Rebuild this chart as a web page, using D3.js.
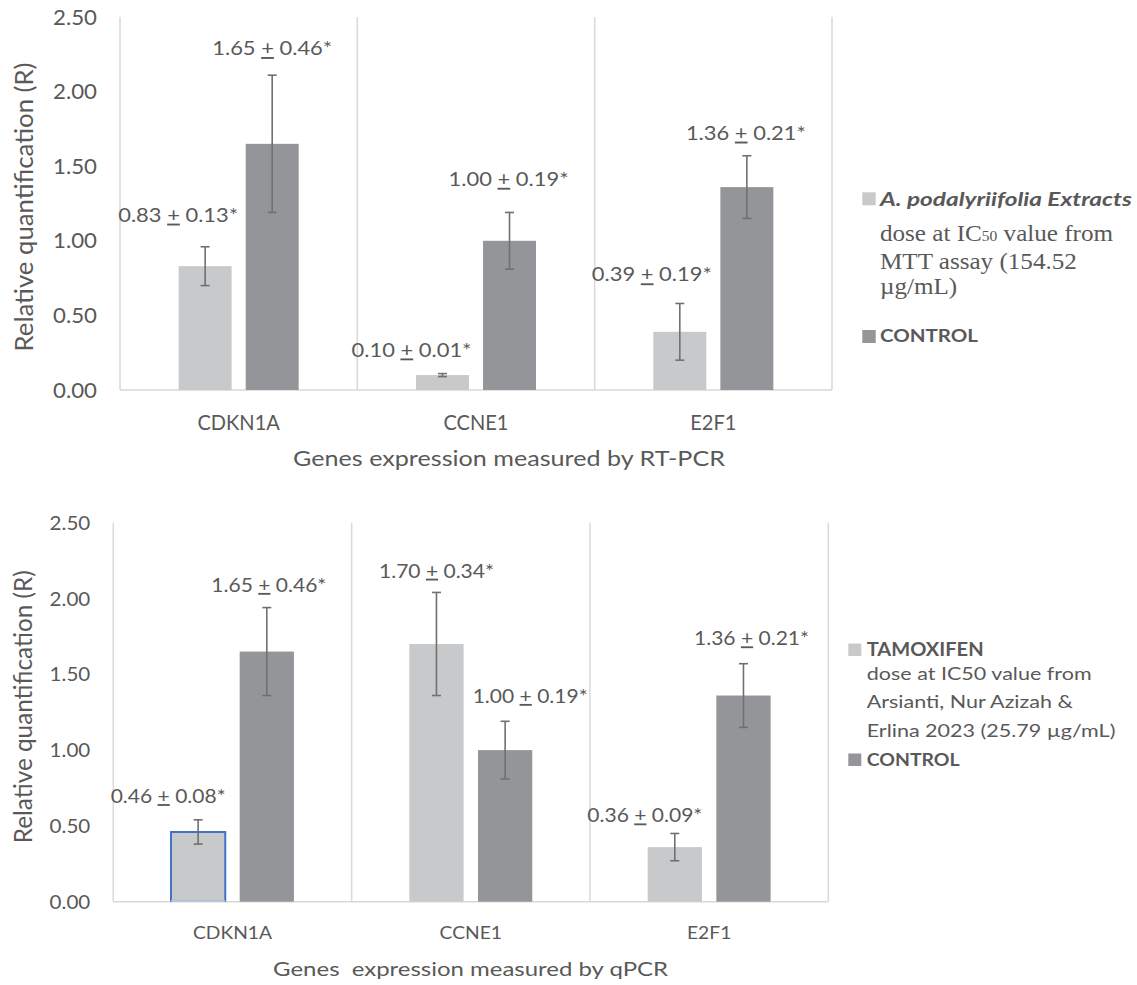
<!DOCTYPE html>
<html>
<head>
<meta charset="utf-8">
<script src="https://cdn.jsdelivr.net/npm/d3@7"></script>
<style>
  html, body { margin: 0; padding: 0; background: #ffffff; }
  svg { display: block; }
</style>
</head>
<body>
<svg id="chart" width="1137" height="985"></svg>
<script>
// ---------------- DATA ----------------
const categories = ["CDKN1A", "CCNE1", "E2F1"];
const yTickValues = [0, 0.5, 1.0, 1.5, 2.0, 2.5];

// Top panel (RT-PCR)
const topSeriesNames = ["A. podalyriifolia Extracts", "CONTROL"];
const topExtractValues = [0.83, 0.10, 0.39];
const topExtractErrors = [0.13, 0.01, 0.19];
const topControlValues = [1.65, 1.00, 1.36];
const topControlErrors = [0.46, 0.19, 0.21];
const topExtractLabels = ["0.83 + 0.13*", "0.10 + 0.01*", "0.39 + 0.19*"];
const topControlLabels = ["1.65 + 0.46*", "1.00 + 0.19*", "1.36 + 0.21*"];

// Bottom panel (qPCR)
const bottomSeriesNames = ["TAMOXIFEN", "CONTROL"];
const bottomTamoxifenValues = [0.46, 1.70, 0.36];
const bottomTamoxifenErrors = [0.08, 0.34, 0.09];
const bottomControlValues = [1.65, 1.00, 1.36];
const bottomControlErrors = [0.29, 0.19, 0.21];
const bottomTamoxifenLabels = ["0.46 + 0.08*", "1.70 + 0.34*", "0.36 + 0.09*"];
const bottomControlLabels = ["1.65 + 0.46*", "1.00 + 0.19*", "1.36 + 0.21*"];

// ---------------- STYLE / LAYOUT ----------------
const FONT = "Lato, 'Open Sans', sans-serif";
const SERIF = "'Liberation Serif', 'DejaVu Serif', serif";
const CAP = 0.72;          // cap height ratio of the sans font
const SERIF_CAP = 0.66;
const TXT = "#595959";
const LIGHT = "#c8c9cb";
const DARK = "#939598";
const GRID = "#d9d9d9";
const ERR = "#707070";

const svg = d3.select("#chart");

// Create a text at anchor (ax, ay); rotation optional
function makeText(parent, ax, ay, opts) {
  const t = parent.append("text")
    .attr("x", 0).attr("y", 0)
    .attr("font-family", opts.family || FONT)
    .attr("fill", TXT)
    .attr("text-anchor", opts.anchor || "start");
  if (opts.weight) t.attr("font-weight", opts.weight);
  if (opts.style) t.attr("font-style", opts.style);
  if (opts.dy) t.attr("dy", opts.dy);
  const n = t.node();
  n.__ax = ax; n.__ay = ay; n.__rot = opts.rotate || 0;
  return t;
}

// Give all nodes a cap height, then stretch horizontally so ref node gets the target width
function shape(nodes, ref, capH, width, capRatio) {
  const fs = capH / (capRatio || CAP);
  nodes.forEach(n => n.setAttribute("font-size", fs));
  const len = ref.getComputedTextLength();
  const sx = width / len;
  nodes.forEach(n => {
    n.setAttribute("transform",
      `translate(${n.__ax},${n.__ay}) rotate(${n.__rot}) scale(${sx},1)`);
  });
}

function addPM(textSel, str) {
  const parts = str.split(" + ");
  textSel.append("tspan").text(parts[0] + " ");
  textSel.append("tspan").attr("text-decoration", "underline").text("+");
  textSel.append("tspan").text(" " + parts[1]);
}

function drawPanel(cfg) {
  const g = svg.append("g");
  const x = d3.scaleBand().domain(categories).range([cfg.x0, cfg.x1]).padding(0);
  const y = d3.scaleLinear().domain([0, 2.5]).range([cfg.yBottom, cfg.yTop]);
  const xs = d3.scaleBand().domain([0, 1]).range([0, x.bandwidth()])
    .paddingInner(cfg.pIn).paddingOuter(cfg.pOut);

  // vertical separators
  const bounds = categories.map(c => x(c)).concat([cfg.x1]);
  g.selectAll("line.sep").data(bounds).join("line")
    .attr("x1", d => d).attr("x2", d => d)
    .attr("y1", cfg.yTop).attr("y2", cfg.yBottom)
    .attr("stroke", GRID).attr("stroke-width", 1.5);
  // baseline
  g.append("line").attr("x1", cfg.x0).attr("x2", cfg.x1)
    .attr("y1", y(0)).attr("y2", y(0))
    .attr("stroke", GRID).attr("stroke-width", 1.5);

  // y tick labels
  const tickNodes = yTickValues.map(v =>
    makeText(g, cfg.x0 - 23, y(v), { anchor: "end", dy: "0.36em" })
      .text(d3.format(".2f")(v)).node());
  shape(tickNodes, tickNodes[5], cfg.tickH, cfg.tickW);

  // category labels
  const catNodes = categories.map(c =>
    makeText(g, x(c) + x.bandwidth() / 2, cfg.catY, { anchor: "middle" }).text(c).node());
  shape(catNodes, catNodes[1], cfg.catH, cfg.catW);

  // axis titles
  const yt = makeText(g, cfg.yTitleX, cfg.yTitleY, { anchor: "middle", rotate: -90 })
    .text("Relative quantification (R)");
  shape([yt.node()], yt.node(), cfg.yTitleH, cfg.yTitleW);
  const xt = makeText(g, cfg.xTitleX, cfg.xTitleY, { anchor: "middle" })
    .style("white-space", "pre").text(cfg.xTitle);
  shape([xt.node()], xt.node(), cfg.xTitleH, cfg.xTitleW);

  // bars
  const series = [
    { vals: cfg.v0, errs: cfg.e0, labels: cfg.l0, color: LIGHT, idx: 0 },
    { vals: cfg.v1, errs: cfg.e1, labels: cfg.l1, color: DARK, idx: 1 }
  ];
  const labelNodes = [];
  series.forEach(s => {
    const rows = categories.map((c, i) => ({ c, i, v: s.vals[i], e: s.errs[i], lab: s.labels[i] }));
    g.selectAll(null).data(rows).join("rect")
      .attr("x", d => x(d.c) + xs(s.idx)).attr("width", xs.bandwidth())
      .attr("y", d => y(d.v)).attr("height", d => y(0) - y(d.v))
      .attr("fill", s.color);
    if (cfg.outline && s.idx === cfg.outline.series) {
      const d = rows[cfg.outline.cat];
      const bx = x(d.c) + xs(s.idx), bw = xs.bandwidth(), by = y(d.v), b0 = y(0);
      g.append("path")
        .attr("d", `M${bx},${b0}V${by}H${bx + bw}V${b0}`)
        .attr("fill", "none").attr("stroke", "#4472c4").attr("stroke-width", 2);
      g.append("line").attr("x1", bx).attr("x2", bx + bw).attr("y1", b0 - 1).attr("y2", b0 - 1)
        .attr("stroke", "#aebfdf").attr("stroke-width", 1.5);
    }
    // error bars
    const eg = g.selectAll(null).data(rows).join("g");
    const cx = d => x(d.c) + xs(s.idx) + xs.bandwidth() / 2;
    eg.append("line").attr("x1", cx).attr("x2", cx)
      .attr("y1", d => y(d.v + d.e)).attr("y2", d => y(d.v - d.e))
      .attr("stroke", ERR).attr("stroke-width", 1.6);
    [1, -1].forEach(sg => {
      eg.append("line").attr("x1", d => cx(d) - 4.5).attr("x2", d => cx(d) + 4.5)
        .attr("y1", d => y(d.v + sg * d.e)).attr("y2", d => y(d.v + sg * d.e))
        .attr("stroke", ERR).attr("stroke-width", 1.6);
    });
    // data labels
    rows.forEach(d => {
      const nudge = cfg.nudges[s.idx][d.i];
      const t = makeText(g, cx(d) + nudge[0], y(d.v + d.e) + nudge[1], { anchor: "middle" });
      addPM(t, d.lab);
      labelNodes.push(t.node());
    });
  });
  shape(labelNodes, labelNodes[0], cfg.labelH, cfg.labelW);
  return g;
}

// ---------------- TOP PANEL ----------------
drawPanel({
  x0: 120, x1: 832, yTop: 17, yBottom: 390,
  pIn: 0.21, pOut: 0.875,
  tickW: 44, tickH: 15, catW: 65, catH: 15, catY: 430,
  yTitleX: 33, yTitleY: 207, yTitleW: 289, yTitleH: 18,
  xTitle: "Genes expression measured by RT-PCR", xTitleX: 509, xTitleY: 466, xTitleW: 432, xTitleH: 15,
  v0: topExtractValues, e0: topExtractErrors, l0: topExtractLabels,
  v1: topControlValues, e1: topControlErrors, l1: topControlLabels,
  labelW: 120, labelH: 13.5,
  nudges: [[[-27, -25], [-31, -17], [-28, -22]], [[0, -20], [-1, -26.5], [-1, -16]]]
});

// ---------------- BOTTOM PANEL ----------------
drawPanel({
  x0: 113.3, x1: 828.3, yTop: 522.7, yBottom: 901.7,
  pIn: 0.21, pOut: 0.84,
  tickW: 40.7, tickH: 14, catW: 62.4, catH: 13, catY: 939,
  yTitleX: 31.7, yTitleY: 706.7, yTitleW: 273, yTitleH: 17.5,
  xTitle: "Genes  expression measured by qPCR", xTitleX: 470.6, xTitleY: 976, xTitleW: 395, xTitleH: 14,
  v0: bottomTamoxifenValues, e0: bottomTamoxifenErrors, l0: bottomTamoxifenLabels,
  v1: bottomControlValues, e1: bottomControlErrors, l1: bottomControlLabels,
  labelW: 115, labelH: 13.3,
  outline: { series: 0, cat: 0 },
  nudges: [[[-30, -16.7], [0, -14.7], [-30, -11]], [[2, -15.6], [25, -18.3], [8, -18.3]]]
});

// ---------------- LEGENDS ----------------
(function topLegend() {
  const g = svg.append("g");
  g.append("rect").attr("x", 862.3).attr("y", 192.3).attr("width", 13.4).attr("height", 13).attr("fill", LIGHT);
  const t1 = makeText(g, 880, 206, { weight: "bold", style: "italic" }).text(topSeriesNames[0]);
  shape([t1.node()], t1.node(), 13, 252);
  const l1 = makeText(g, 880, 241, { family: SERIF });
  l1.append("tspan").text("dose at IC");
  l1.append("tspan").attr("font-size", "0.62em").text("50");
  l1.append("tspan").text(" value from");
  const l2 = makeText(g, 880, 269, { family: SERIF }).text("MTT assay (154.52");
  const l3 = makeText(g, 880, 294, { family: SERIF }).text("\u00b5g/mL)");
  shape([l1.node(), l2.node(), l3.node()], l1.node(), 15.5, 233, SERIF_CAP);
  g.append("rect").attr("x", 862.3).attr("y", 330).attr("width", 13.4).attr("height", 13).attr("fill", DARK);
  const t2 = makeText(g, 880, 342, { weight: "bold" }).text(topSeriesNames[1]);
  shape([t2.node()], t2.node(), 12.5, 98);
})();

(function bottomLegend() {
  const g = svg.append("g");
  g.append("rect").attr("x", 848.3).attr("y", 643.5).attr("width", 13).attr("height", 12.5).attr("fill", LIGHT);
  const t1 = makeText(g, 866.7, 656, { weight: "bold" }).text(bottomSeriesNames[0]);
  shape([t1.node()], t1.node(), 13.5, 117);
  const lines = ["dose at IC50 value from", "Arsianti, Nur Azizah &", "Erlina 2023 (25.79 \u00b5g/mL)"];
  const ys = [680, 708.3, 736.7];
  const nodes = lines.map((s, i) => makeText(g, 866.7, ys[i], {}).text(s).node());
  shape(nodes, nodes[0], 12.5, 225);
  g.append("rect").attr("x", 848.3).attr("y", 753.5).attr("width", 13).attr("height", 12.5).attr("fill", DARK);
  const t2 = makeText(g, 866.7, 766, { weight: "bold" }).text(bottomSeriesNames[1]);
  shape([t2.node()], t2.node(), 12.5, 93);
})();
</script>
</body>
</html>
